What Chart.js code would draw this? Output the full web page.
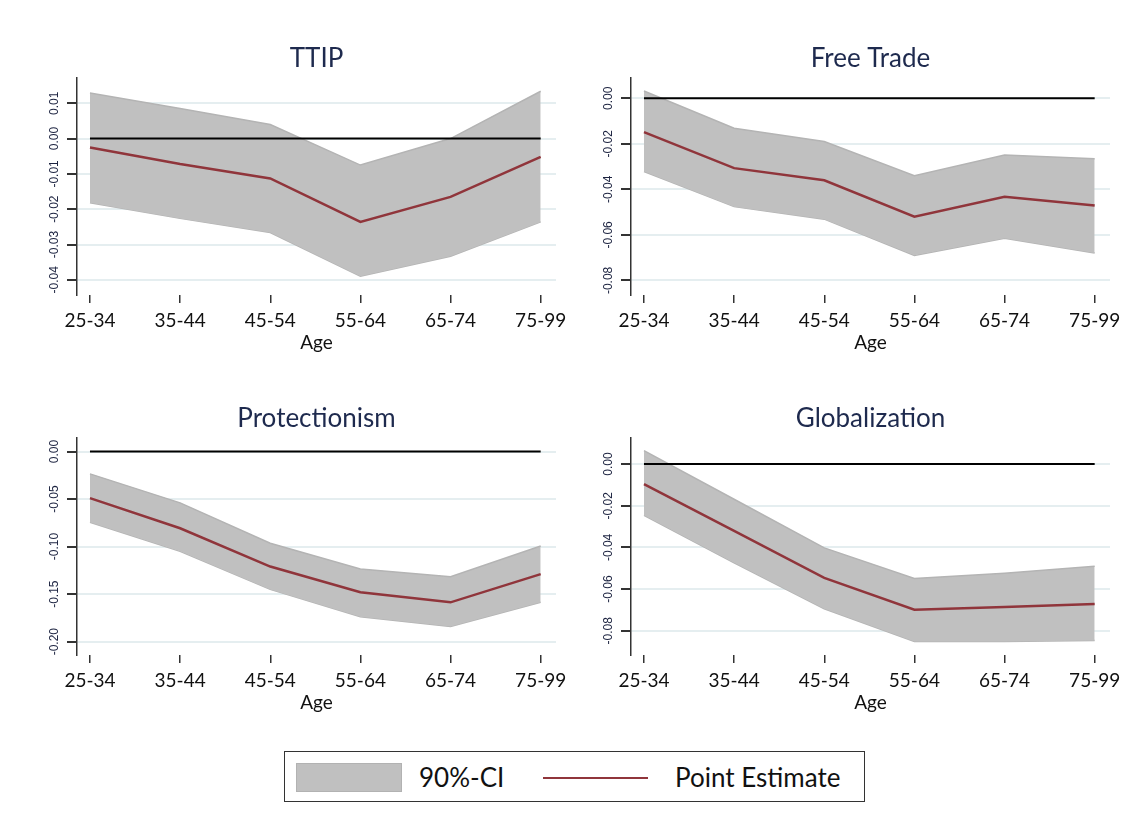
<!DOCTYPE html>
<html>
<head>
<meta charset="utf-8">
<script src="https://cdn.jsdelivr.net/npm/chart.js"></script>
<style>
body { margin: 0; background: #fff; width: 1148px; height: 830px; position: relative; overflow: hidden; font-family: Lato, "Open Sans", sans-serif; }
.panel { position: absolute; width: 574px; height: 340px; }
#legend { position: absolute; left: 284px; top: 751px; width: 579px; height: 49px; border: 1.5px solid #333; }
#legend .sw { position: absolute; left: 11px; top: 11px; width: 106px; height: 29px; background: #c0c0c0; border: 1px solid #b2b2b2; box-sizing: border-box; }
#legend .ln { position: absolute; left: 258px; top: 25px; width: 105px; height: 2px; background: #90353b; }
#legend .lt { position: absolute; top: 9px; font-size: 26px; color: #111; line-height: 32px; }
</style>
</head>
<body>
<div class="panel" style="left:0;top:20px"><canvas id="c1" width="574" height="340"></canvas></div>
<div class="panel" style="left:554px;top:20px"><canvas id="c2" width="574" height="340"></canvas></div>
<div class="panel" style="left:0;top:380px"><canvas id="c3" width="574" height="340"></canvas></div>
<div class="panel" style="left:554px;top:380px"><canvas id="c4" width="574" height="340"></canvas></div>
<div id="legend">
  <span class="sw"></span><span class="lt" style="left:134px">90%-CI</span>
  <span class="ln"></span><span class="lt" style="left:390px">Point Estimate</span>
</div>
<script>
// age groups on the x axis
const ageGroups = ['25-34', '35-44', '45-54', '55-64', '65-74', '75-99'];

// TTIP
const ttipPoint = [-0.0025, -0.0072, -0.0113, -0.0236, -0.0165, -0.0052];
const ttipUpper = [0.0129, 0.0085, 0.0040, -0.0075, 0.0000, 0.0134];
const ttipLower = [-0.0182, -0.0226, -0.0266, -0.0390, -0.0333, -0.0236];
const ttipTicks = [0.01, 0, -0.01, -0.02, -0.03, -0.04];

// Free Trade
const freePoint = [-0.0149, -0.0307, -0.0360, -0.0520, -0.0433, -0.0471];
const freeUpper = [0.0032, -0.0132, -0.0190, -0.0340, -0.0249, -0.0266];
const freeLower = [-0.0322, -0.0476, -0.0531, -0.0690, -0.0615, -0.0680];
const freeTicks = [0, -0.02, -0.04, -0.06, -0.08];

// Protectionism
const protPoint = [-0.0490, -0.0807, -0.1210, -0.1480, -0.1586, -0.1290];
const protUpper = [-0.0235, -0.0540, -0.0965, -0.1235, -0.1316, -0.0993];
const protLower = [-0.0744, -0.1050, -0.1450, -0.1737, -0.1840, -0.1586];
const protTicks = [0, -0.05, -0.10, -0.15, -0.20];

// Globalization
const globPoint = [-0.0096, -0.0321, -0.0546, -0.0699, -0.0686, -0.0671];
const globUpper = [0.0064, -0.0169, -0.0402, -0.0549, -0.0524, -0.0490];
const globLower = [-0.0246, -0.0474, -0.0694, -0.0851, -0.0851, -0.0847];
const globTicks = [0, -0.02, -0.04, -0.06, -0.08];

const toXY = arr => arr.map((v, i) => ({ x: i, y: v }));

// rotated y tick labels (Stata style)
const yLabelPlugin = {
    id: 'yLabels',
    afterDraw(chart, args, opts) {
        const s = chart.scales.y;
        const ctx = chart.ctx;
        ctx.save();
        ctx.font = '12px "Liberation Sans"';
        ctx.fillStyle = '#1c2340';
        ctx.textAlign = 'center';
        ctx.textBaseline = 'middle';
        opts.ticks.forEach(v => {
            ctx.save();
            ctx.translate(s.right - 22, s.getPixelForValue(v));
            ctx.rotate(-Math.PI / 2);
            ctx.fillText(v.toFixed(2), 0, 0);
            ctx.restore();
        });
        ctx.restore();
    }
};

function createPanel(id, title, point, upper, lower, ticks, yMin, yMax) {
    const ctx = document.getElementById(id).getContext('2d');
    return new Chart(ctx, {
        type: 'line',
        data: {
            datasets: [{
                data: toXY(point),
                borderColor: '#90353b',
                borderWidth: 2.5,
                pointRadius: 0,
                fill: false
            }, {
                data: [{ x: 0, y: 0 }, { x: ageGroups.length - 1, y: 0 }],
                borderColor: '#000',
                borderWidth: 2,
                pointRadius: 0,
                fill: false
            }, {
                data: toXY(upper),
                borderColor: '#b4b4b4',
                borderWidth: 1.5,
                backgroundColor: '#c0c0c0',
                pointRadius: 0,
                fill: '+1'
            }, {
                data: toXY(lower),
                borderColor: '#b4b4b4',
                borderWidth: 1.5,
                pointRadius: 0,
                fill: false
            }]
        },
        options: {
            responsive: false,
            animation: false,
            layout: { padding: { left: 0, right: 18, top: 0, bottom: 0 } },
            plugins: {
                legend: { display: false },
                tooltip: { enabled: false },
                title: {
                    display: true,
                    text: title,
                    fullSize: false,
                    color: '#1e2a4e',
                    font: { family: 'Lato', size: 26, weight: 'normal' },
                    padding: { top: 23, bottom: 4 }
                },
                yLabels: { ticks: ticks }
            },
            scales: {
                x: {
                    type: 'linear',
                    min: -0.144,
                    max: 5.17,
                    afterBuildTicks: s => { s.ticks = ageGroups.map((c, i) => ({ value: i })); },
                    afterFit: s => { s.height = 65; },
                    border: { display: false },
                    grid: { drawOnChartArea: false, drawTicks: true, tickLength: 8, tickColor: '#333', lineWidth: 1.5 },
                    ticks: {
                        autoSkip: false,
                        maxRotation: 0,
                        padding: 6,
                        color: '#111',
                        font: { family: 'Lato', size: 19 },
                        callback: v => ageGroups[v]
                    },
                    title: {
                        display: true,
                        text: 'Age',
                        color: '#111',
                        font: { family: 'Lato', size: 19 },
                        padding: { top: 0, bottom: 6 }
                    }
                },
                y: {
                    min: yMin,
                    max: yMax,
                    afterBuildTicks: s => { s.ticks = ticks.map(v => ({ value: v })); },
                    afterFit: s => { s.width = 77; },
                    border: { display: true, color: '#333', width: 1.5 },
                    grid: { color: '#e5eef0', lineWidth: 2, tickLength: 10, tickColor: '#333' },
                    ticks: { display: false }
                }
            }
        },
        plugins: [yLabelPlugin]
    });
}

createPanel('c1', 'TTIP', ttipPoint, ttipUpper, ttipLower, ttipTicks, -0.0443, 0.0171);
createPanel('c2', 'Free Trade', freePoint, freeUpper, freeLower, freeTicks, -0.0864, 0.0088);
createPanel('c3', 'Protectionism', protPoint, protUpper, protLower, protTicks, -0.214, 0.014);
createPanel('c4', 'Globalization', globPoint, globUpper, globLower, globTicks, -0.0916, 0.0124);
</script>
</body>
</html>
